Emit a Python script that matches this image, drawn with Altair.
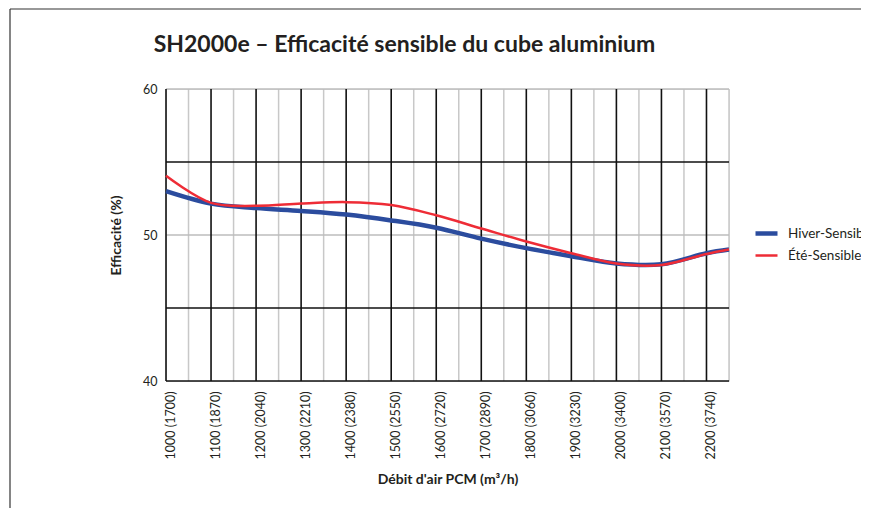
import json
import altair as alt
import pandas as pd

# ---- data ----
flow_cfm = [1000, 1100, 1200, 1300, 1400, 1500, 1600, 1700, 1800, 1900, 2000, 2100, 2200, 2250]
hiver = [53.0, 52.15, 51.85, 51.65, 51.4, 51.0, 50.5, 49.75, 49.1, 48.55, 48.05, 48.0, 48.75, 49.0]
ete = [54.05, 52.2, 52.0, 52.15, 52.25, 52.05, 51.35, 50.45, 49.55, 48.75, 48.05, 47.95, 48.7, 49.0]
series_names = ["Hiver-Sensible", "Été-Sensible"]
series_colors = ["#2b4c9e", "#ee2c36"]
series_widths = [4.5, 2.5]

tick_cfm = [1000, 1100, 1200, 1300, 1400, 1500, 1600, 1700, 1800, 1900, 2000, 2100, 2200]
tick_m3h = [1700, 1870, 2040, 2210, 2380, 2550, 2720, 2890, 3060, 3230, 3400, 3570, 3740]
minor_cfm = [1050, 1150, 1250, 1350, 1450, 1550, 1650, 1750, 1850, 1950, 2050, 2150, 2250]
y_ticks = [40, 50, 60]
y_major_grid = [40, 45, 55]
y_minor_grid = [50, 60]

FONT = "Lato"
INK = "#231f20"
W, H = 563, 292

df = pd.DataFrame({
    "x": flow_cfm * 2,
    "y": hiver + ete,
    "s": [series_names[0]] * len(flow_cfm) + [series_names[1]] * len(flow_cfm),
})

label_map = {str(c): f"{c} ({m})" for c, m in zip(tick_cfm, tick_m3h)}
label_expr = json.dumps(label_map, ensure_ascii=False) + "[datum.value + '']"

xs = alt.Scale(domain=[1000, 2250], nice=False, zero=False)
ys = alt.Scale(domain=[40, 60], nice=False, zero=False)

x_axis = alt.Axis(
    values=tick_cfm, title="Débit d'air PCM (m³/h)", grid=False, ticks=False,
    domain=False, labelAngle=270, labelExpr=label_expr, labelFont=FONT,
    labelFontSize=12.5, labelColor=INK, labelPadding=10, labelOffset=4,
    titleFont=FONT, titleFontSize=14, titleFontWeight="bold", titleColor=INK,
    titlePadding=14,
)
y_axis = alt.Axis(
    values=y_ticks, title="Efficacité (%)", grid=False, ticks=False, domain=False,
    labelFont=FONT, labelFontSize=12.5, labelColor=INK, labelPadding=9,
    titleFont=FONT, titleFontSize=14, titleFontWeight="bold", titleColor=INK,
    titlePadding=19,
)

def X():
    return alt.X("x:Q", scale=xs, axis=x_axis)

def Y():
    return alt.Y("y:Q", scale=ys, axis=y_axis)

minor_v = alt.Chart(pd.DataFrame({"x": minor_cfm})).mark_rule(
    color="#c8c8c8", strokeWidth=1.5
).encode(x=X())

minor_h = alt.Chart(pd.DataFrame({"y": y_minor_grid})).mark_rule(
    color="#bdbdbd", strokeWidth=1.5
).encode(y=Y())

major_v = alt.Chart(pd.DataFrame({"x": tick_cfm})).mark_rule(
    color="#111111", strokeWidth=1.6
).encode(x=X())

major_h = alt.Chart(pd.DataFrame({"y": y_major_grid})).mark_rule(
    color="#111111", strokeWidth=1.4
).encode(y=Y())

leg = alt.Legend(
    title=None, orient="none", legendX=587, legendY=131, symbolType="stroke",
    symbolSize=484, labelFont=FONT, labelFontSize=13.5, labelColor=INK,
    labelOffset=8, rowPadding=-2, padding=0,
)

lines = alt.Chart(df).mark_line(interpolate="catmull-rom").encode(
    x=X(),
    y=Y(),
    color=alt.Color(
        "s:N", sort=series_names,
        scale=alt.Scale(domain=series_names, range=series_colors),
        legend=leg,
    ),
    strokeWidth=alt.StrokeWidth(
        "s:N", sort=series_names,
        scale=alt.Scale(domain=series_names, range=series_widths),
        legend=leg,
    ),
    order=alt.Order("x:Q"),
)

frame_left = alt.Chart(pd.DataFrame({"k": [0]})).mark_rule(color="#333333", strokeWidth=1.2).encode(
    x=alt.value(-156), y=alt.value(-80), y2=alt.value(520)
)
frame_top = alt.Chart(pd.DataFrame({"k": [0]})).mark_rule(color="#333333", strokeWidth=1.2).encode(
    x=alt.value(-156), x2=alt.value(760), y=alt.value(-80)
)

chart = alt.layer(
    minor_v, minor_h, major_v, major_h, lines, frame_left, frame_top
).properties(
    width=W, height=H,
    title=alt.TitleParams(
        "SH2000e – Efficacité sensible du cube aluminium",
        font=FONT, fontSize=23, fontWeight="bold", color=INK,
        anchor="middle", dx=-43, offset=28, dy=77,
    ),
    autosize=alt.AutoSizeParams(type="none"),
    padding={"left": 158, "top": 81, "right": 132, "bottom": 127},
).configure_view(strokeWidth=0).configure(background="white")

chart.save("out.html", embed_options={"renderer": "svg", "actions": False})
